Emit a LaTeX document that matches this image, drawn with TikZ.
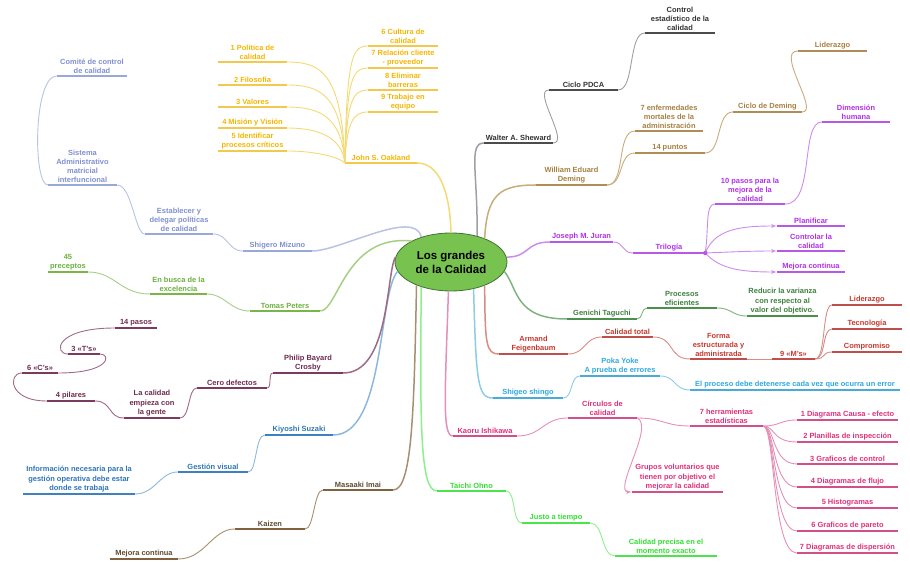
\documentclass[tikz,border=0pt]{standalone}
\usepackage{fontspec}
\setmainfont{Liberation Sans}
\usetikzlibrary{arrows}
\usetikzlibrary{shapes}

\begin{document}
\begin{tikzpicture}[>=latex',line join=bevel,
  topic/.style={anchor=south,align=center,inner xsep=0pt,inner ysep=1.8bp,minimum width=70bp,font=\bfseries\fontsize{7.5}{9.3}\selectfont},
  underbar/.style={append after command={(\tikzlastnode.south west) edge[draw=#1,line width=2.8bp] (\tikzlastnode.south east)}},
  link/.style={draw=#1,line width=0.9bp},
  trunk/.style={draw=#1,line width=1.5bp}]
\useasboundingbox (0bp,0bp) rectangle (910bp,574bp);
%%
  \definecolor{rootfill}{rgb}{0.47,0.76,0.31};
  \definecolor{rootstroke}{rgb}{0.25,0.45,0.20};
  \definecolor{oaktext}{rgb}{0.96,0.71,0.0};
  \definecolor{oakbar}{rgb}{0.95,0.79,0.30};
  \definecolor{oakline}{rgb}{0.96,0.85,0.45};
  \definecolor{shewtext}{rgb}{0.2,0.2,0.2};
  \definecolor{shewbar}{rgb}{0.3,0.3,0.3};
  \definecolor{shewline}{rgb}{0.62,0.62,0.65};
  \definecolor{demtext}{rgb}{0.65,0.5,0.25};
  \definecolor{dembar}{rgb}{0.69,0.55,0.34};
  \definecolor{demline}{rgb}{0.78,0.68,0.48};
  \definecolor{jurtext}{rgb}{0.69,0.19,0.91};
  \definecolor{jurbar}{rgb}{0.72,0.35,0.90};
  \definecolor{jurline}{rgb}{0.80,0.55,0.92};
  \definecolor{tagtext}{rgb}{0.24,0.50,0.24};
  \definecolor{tagbar}{rgb}{0.30,0.56,0.30};
  \definecolor{tagline}{rgb}{0.50,0.70,0.50};
  \definecolor{feitext}{rgb}{0.78,0.22,0.18};
  \definecolor{feibar}{rgb}{0.75,0.31,0.30};
  \definecolor{feiline}{rgb}{0.85,0.55,0.52};
  \definecolor{shitext}{rgb}{0.18,0.66,0.88};
  \definecolor{shibar}{rgb}{0.29,0.67,0.85};
  \definecolor{shiline}{rgb}{0.55,0.80,0.90};
  \definecolor{ishtext}{rgb}{0.88,0.19,0.48};
  \definecolor{ishbar}{rgb}{0.82,0.31,0.55};
  \definecolor{ishline}{rgb}{0.90,0.56,0.72};
  \definecolor{ohntext}{rgb}{0.2,0.87,0.2};
  \definecolor{ohnbar}{rgb}{0.30,0.89,0.30};
  \definecolor{ohnline}{rgb}{0.55,0.94,0.55};
  \definecolor{imatext}{rgb}{0.37,0.29,0.18};
  \definecolor{imabar}{rgb}{0.50,0.38,0.25};
  \definecolor{imaline}{rgb}{0.66,0.56,0.44};
  \definecolor{suztext}{rgb}{0.18,0.46,0.71};
  \definecolor{suzbar}{rgb}{0.25,0.50,0.75};
  \definecolor{suzline}{rgb}{0.55,0.72,0.87};
  \definecolor{crotext}{rgb}{0.43,0.17,0.31};
  \definecolor{crobar}{rgb}{0.48,0.23,0.37};
  \definecolor{croline}{rgb}{0.62,0.42,0.53};
  \definecolor{pettext}{rgb}{0.42,0.69,0.24};
  \definecolor{petbar}{rgb}{0.48,0.71,0.28};
  \definecolor{petline}{rgb}{0.65,0.81,0.52};
  \definecolor{miztext}{rgb}{0.50,0.56,0.82};
  \definecolor{mizbar}{rgb}{0.60,0.66,0.86};
  \definecolor{mizline}{rgb}{0.72,0.76,0.90};
%
  \node (NodeRoot) at (451bp,312bp) [draw=rootstroke,fill=rootfill,ellipse,line width=0.8bp,minimum width=112bp,minimum height=58bp,inner sep=0pt,align=center,font=\bfseries\fontsize{11.5}{14}\selectfont] {Los grandes\\de la Calidad};
% John S. Oakland
  \node (NodeOakland) at (381bp,411bp) [topic,minimum width=72bp,text=oaktext,underbar=oakbar] {John S. Oakland};
  \node (NodePolitica) at (252.5bp,512bp) [topic,minimum width=69bp,text=oaktext,underbar=oakbar] {1 Política de\\calidad};
  \node (NodeFilosofia) at (252.5bp,489bp) [topic,minimum width=69bp,text=oaktext,underbar=oakbar] {2 Filosofía};
  \node (NodeValores) at (252.5bp,467bp) [topic,minimum width=69bp,text=oaktext,underbar=oakbar] {3 Valores};
  \node (NodeMision) at (252.5bp,446bp) [topic,minimum width=69bp,text=oaktext,underbar=oakbar] {4 Misión y Visión};
  \node (NodeCriticos) at (252.5bp,423bp) [topic,minimum width=69bp,text=oaktext,underbar=oakbar] {5 Identificar\\procesos críticos};
  \node (NodeCultura) at (403bp,528bp) [topic,text=oaktext,underbar=oakbar] {6 Cultura de\\calidad};
  \node (NodeRelacion) at (403bp,506bp) [topic,text=oaktext,underbar=oakbar] {7 Relación cliente\\- proveedor};
  \node (NodeBarreras) at (403bp,484bp) [topic,text=oaktext,underbar=oakbar] {8 Eliminar\\barreras};
  \node (NodeEquipo) at (403bp,462bp) [topic,text=oaktext,underbar=oakbar] {9 Trabajo en\\equipo};
% Walter A. Sheward
  \node (NodeSheward) at (518.5bp,431bp) [topic,minimum width=69bp,text=shewtext,underbar=shewbar] {Walter A. Sheward};
  \node (NodePDCA) at (583.5bp,484bp) [topic,minimum width=69bp,text=shewtext,underbar=shewbar] {Ciclo PDCA};
  \node (NodeEstadistico) at (680bp,541bp) [topic,text=shewtext,underbar=shewbar] {Control\\estadístico de la\\calidad};
% William Eduard Deming
  \node (NodeDeming) at (571.5bp,389bp) [topic,minimum width=71bp,text=demtext,underbar=dembar] {William Eduard\\Deming};
  \node (NodeEnfermedades) at (669bp,443bp) [topic,minimum width=68bp,text=demtext,underbar=dembar] {7 enfermedades\\mortales de la\\administración};
  \node (NodePuntos) at (670bp,421bp) [topic,text=demtext,underbar=dembar] {14 puntos};
  \node (NodeCicloDeming) at (767.5bp,462bp) [topic,minimum width=69bp,text=demtext,underbar=dembar] {Ciclo de Deming};
  \node (NodeLiderazgoD) at (832.5bp,523bp) [topic,minimum width=69bp,text=demtext,underbar=dembar] {Liderazgo};
% Joseph M. Juran
  \node (NodeJuran) at (581.5bp,332bp) [topic,minimum width=63bp,text=jurtext,underbar=jurbar] {Joseph M. Juran};
  \node (NodeTrilogia) at (669bp,321bp) [topic,minimum width=72bp,text=jurtext,underbar=jurbar] {Trilogía};
  \node (NodeDiezPasos) at (750bp,370bp) [topic,text=jurtext,underbar=jurbar] {10 pasos para la\\mejora de la\\calidad};
  \node (NodeDimension) at (856bp,452bp) [topic,minimum width=68bp,text=jurtext,underbar=jurbar] {Dimensión\\humana};
  \node (NodePlanificar) at (811bp,348bp) [topic,minimum width=68bp,text=jurtext,underbar=jurbar] {Planificar};
  \node (NodeControlar) at (811bp,323bp) [topic,minimum width=68bp,text=jurtext,underbar=jurbar] {Controlar la\\calidad};
  \node (NodeMejoraJ) at (811bp,302bp) [topic,minimum width=68bp,text=jurtext,underbar=jurbar] {Mejora continua};
% Genichi Taguchi
  \node (NodeTaguchi) at (602bp,255bp) [topic,text=tagtext,underbar=tagbar] {Genichi Taguchi};
  \node (NodeEficientes) at (682bp,266bp) [topic,text=tagtext,underbar=tagbar] {Procesos\\eficientes};
  \node (NodeVarianza) at (782.5bp,258bp) [topic,minimum width=71bp,text=tagtext,underbar=tagbar] {Reducir la varianza\\con respecto al\\valor del objetivo.};
% Armand Feigenbaum
  \node (NodeFeigenbaum) at (533.5bp,220bp) [topic,minimum width=69bp,text=feitext,underbar=feibar] {Armand\\Feigenbaum};
  \node (NodeTotal) at (627.5bp,237bp) [topic,minimum width=51bp,text=feitext,underbar=feibar] {Calidad total};
  \node (NodeForma) at (718.5bp,215bp) [topic,minimum width=57bp,text=feitext,underbar=feibar] {Forma\\estructurada y\\administrada};
  \node (NodeEmes) at (793.5bp,215bp) [topic,minimum width=43bp,text=feitext,underbar=feibar] {9 «M's»};
  \node (NodeLiderazgoF) at (867bp,269bp) [topic,text=feitext,underbar=feibar] {Liderazgo};
  \node (NodeTecnologia) at (867bp,245bp) [topic,text=feitext,underbar=feibar] {Tecnología};
  \node (NodeCompromiso) at (867bp,222bp) [topic,text=feitext,underbar=feibar] {Compromiso};
% Shigeo shingo
  \node (NodeShingo) at (528bp,176bp) [topic,text=shitext,underbar=shibar] {Shigeo shingo};
  \node (NodePokaYoke) at (620bp,198bp) [topic,minimum width=80bp,text=shitext,underbar=shibar] {Poka Yoke\\A prueba de errores};
  \node (NodeError) at (795bp,184bp) [topic,minimum width=210bp,text=shitext,underbar=shibar] {El proceso debe detenerse cada vez que ocurra un error};
% Kaoru Ishikawa
  \node (NodeIshikawa) at (485bp,138bp) [topic,minimum width=64bp,text=ishtext,underbar=ishbar] {Kaoru Ishikawa};
  \node (NodeCirculos) at (602.5bp,156bp) [topic,minimum width=69bp,text=ishtext,underbar=ishbar] {Círculos de\\calidad};
  \node (NodeHerramientas) at (726.5bp,148bp) [topic,minimum width=73bp,text=ishtext,underbar=ishbar] {7 herramientas\\estadísticas};
  \node (NodeGrupos) at (677.5bp,82bp) [topic,minimum width=91bp,text=ishtext,underbar=ishbar] {Grupos voluntarios que\\tienen por objetivo el\\mejorar la calidad};
  \node (NodeToolA) at (847.5bp,154bp) [topic,minimum width=101bp,text=ishtext,underbar=ishbar] {1 Diagrama Causa - efecto};
  \node (NodeToolB) at (847.5bp,132bp) [topic,minimum width=101bp,text=ishtext,underbar=ishbar] {2 Planillas de inspección};
  \node (NodeToolC) at (847.5bp,110bp) [topic,minimum width=101bp,text=ishtext,underbar=ishbar] {3 Graficos de control};
  \node (NodeToolD) at (847.5bp,87bp) [topic,minimum width=101bp,text=ishtext,underbar=ishbar] {4 Diagramas de flujo};
  \node (NodeToolE) at (847.5bp,66bp) [topic,minimum width=101bp,text=ishtext,underbar=ishbar] {5 Histogramas};
  \node (NodeToolF) at (847.5bp,43bp) [topic,minimum width=101bp,text=ishtext,underbar=ishbar] {6 Graficos de pareto};
  \node (NodeToolG) at (847.5bp,21bp) [topic,minimum width=101bp,text=ishtext,underbar=ishbar] {7 Diagramas de dispersión};
% Taichi Ohno
  \node (NodeOhno) at (471.5bp,83bp) [topic,minimum width=69bp,text=ohntext,underbar=ohnbar] {Taichi Ohno};
  \node (NodeJusto) at (556bp,51bp) [topic,minimum width=68bp,text=ohntext,underbar=ohnbar] {Justo a tiempo};
  \node (NodeMomento) at (666bp,18bp) [topic,minimum width=102bp,text=ohntext,underbar=ohnbar] {Calidad precisa en el\\momento exacto};
% Masaaki Imai
  \node (NodeImai) at (358bp,84bp) [topic,text=imatext,underbar=imabar] {Masaaki Imai};
  \node (NodeKaizen) at (270bp,45bp) [topic,text=imatext,underbar=imabar] {Kaizen};
  \node (NodeMejoraI) at (144bp,15bp) [topic,minimum width=68bp,text=imatext,underbar=imabar] {Mejora continua};
% Kiyoshi Suzaki
  \node (NodeSuzaki) at (299bp,139bp) [topic,minimum width=68bp,text=suztext,underbar=suzbar] {Kiyoshi Suzaki};
  \node (NodeGestion) at (213bp,102bp) [topic,text=suztext,underbar=suzbar] {Gestión visual};
  \node (NodeInformacion) at (79bp,80bp) [topic,minimum width=112bp,text=suztext,underbar=suzbar] {Información necesaria para la\\gestión operativa debe estar\\donde se trabaja};
% Philip Bayard Crosby
  \node (NodeCrosby) at (308bp,201bp) [topic,text=crotext,underbar=crobar] {Philip Bayard\\Crosby};
  \node (NodeCero) at (232bp,186bp) [topic,text=crotext,underbar=crobar] {Cero defectos};
  \node (NodeGente) at (152bp,156bp) [topic,minimum width=56bp,text=crotext,underbar=crobar] {La calidad\\empieza con\\la gente};
  \node (NodePilares) at (71bp,173bp) [topic,minimum width=48bp,text=crotext,underbar=crobar] {4 pilares};
  \node (NodeCes) at (40bp,201bp) [topic,minimum width=36bp,text=crotext,underbar=crobar] {6 «C's»};
  \node (NodeTes) at (84bp,220bp) [topic,minimum width=32bp,text=crotext,underbar=crobar] {3 «T's»};
  \node (NodePasos) at (136bp,246bp) [topic,minimum width=42bp,text=crotext,underbar=crobar] {14 pasos};
% Tomas Peters
  \node (NodePeters) at (285bp,263bp) [topic,text=pettext,underbar=petbar] {Tomas Peters};
  \node (NodeBusca) at (178.5bp,280bp) [topic,minimum width=57bp,text=pettext,underbar=petbar] {En busca de la\\excelencia};
  \node (NodePreceptos) at (68bp,302bp) [topic,minimum width=40bp,text=pettext,underbar=petbar] {45\\preceptos};
% Shigero Mizuno
  \node (NodeMizuno) at (277.5bp,323bp) [topic,minimum width=69bp,text=miztext,underbar=mizbar] {Shigero Mizuno};
  \node (NodeEstablecer) at (179bp,340bp) [topic,minimum width=68bp,text=miztext,underbar=mizbar] {Establecer y\\delegar políticas\\de calidad};
  \node (NodeSistema) at (82.5bp,389bp) [topic,minimum width=69bp,text=miztext,underbar=mizbar] {Sistema\\Administrativo\\matricial\\interfuncional};
  \node (NodeComite) at (92bp,498bp) [topic,text=miztext,underbar=mizbar] {Comité de control\\de calidad};
%
  \draw [trunk=oakline] (NodeRoot.north) ..controls (450bp,380bp) and (440bp,411bp)  .. (NodeOakland.south east);
  \draw [link=oakline] (NodeOakland.south west) ..controls (342bp,502bp) and (320bp,512bp)  .. (NodePolitica.south east);
  \draw [link=oakline] (NodeOakland.south west) ..controls (342bp,479bp) and (320bp,489bp)  .. (NodeFilosofia.south east);
  \draw [link=oakline] (NodeOakland.south west) ..controls (342bp,457bp) and (320bp,467bp)  .. (NodeValores.south east);
  \draw [link=oakline] (NodeOakland.south west) ..controls (342bp,436bp) and (320bp,446bp)  .. (NodeMision.south east);
  \draw [link=oakline] (NodeOakland.south west) ..controls (342bp,415bp) and (320bp,423bp)  .. (NodeCriticos.south east);
  \draw [link=oakline] (NodeOakland.south west) ..controls (347bp,516bp) and (352bp,528bp)  .. (NodeCultura.south west);
  \draw [link=oakline] (NodeOakland.south west) ..controls (347bp,494bp) and (352bp,506bp)  .. (NodeRelacion.south west);
  \draw [link=oakline] (NodeOakland.south west) ..controls (347bp,472bp) and (352bp,484bp)  .. (NodeBarreras.south west);
  \draw [link=oakline] (NodeOakland.south west) ..controls (347bp,450bp) and (352bp,462bp)  .. (NodeEquipo.south west);
%
  \draw [trunk=shewline] (NodeRoot.45) ..controls (478bp,400bp) and (468bp,431bp)  .. (NodeSheward.south west);
  \draw [link=shewline] (NodeSheward.south east) ..controls (570bp,431bp) and (532bp,484bp)  .. (NodePDCA.south west);
  \draw [link=shewline] (NodePDCA.south east) ..controls (635bp,484bp) and (628bp,541bp)  .. (NodeEstadistico.south west);
%
  \draw [trunk=demline] (NodeRoot.35) ..controls (487bp,380bp) and (500bp,389bp)  .. (NodeDeming.south west);
  \draw [link=demline] (NodeDeming.south east) ..controls (626bp,389bp) and (616bp,443bp)  .. (NodeEnfermedades.south west);
  \draw [link=demline] (NodeDeming.south east) ..controls (624bp,389bp) and (618bp,421bp)  .. (NodePuntos.south west);
  \draw [link=demline] (NodePuntos.south east) ..controls (722bp,421bp) and (716bp,462bp)  .. (NodeCicloDeming.south west);
  \draw [link=demline] (NodeCicloDeming.south east) ..controls (820bp,462bp) and (775bp,523bp)  .. (NodeLiderazgoD.south west);
%
  \draw [trunk=jurline] (NodeRoot.5) ..controls (530bp,317bp) and (525bp,332bp)  .. (NodeJuran.south west);
  \draw [link=jurline] (NodeJuran.south east) ..controls (624bp,332bp) and (622bp,321bp)  .. (NodeTrilogia.south west);
  \draw [link=jurline] (NodeTrilogia.south east) ..controls (709bp,345bp) and (705bp,370bp)  .. (NodeDiezPasos.south west);
  \draw [link=jurline] (NodeDiezPasos.south east) ..controls (815bp,370bp) and (800bp,452bp)  .. (NodeDimension.south west);
  \draw [->,link=jurline] (NodeTrilogia.south east) ..controls (715bp,345bp) and (740bp,348bp)  .. (NodePlanificar.south west);
  \draw [->,link=jurline] (NodeTrilogia.south east) ..controls (730bp,322bp) and (750bp,323bp)  .. (NodeControlar.south west);
  \draw [->,link=jurline] (NodeTrilogia.south east) ..controls (720bp,305bp) and (740bp,302bp)  .. (NodeMejoraJ.south west);
  \fill [jurbar] (NodeTrilogia.south east) circle (2.2bp);
%
  \draw [trunk=tagline] (NodeRoot.-10) ..controls (518bp,285bp) and (515bp,255bp)  .. (NodeTaguchi.south west);
  \draw [link=tagline] (NodeTaguchi.south east) ..controls (643bp,255bp) and (641bp,266bp)  .. (NodeEficientes.south west);
  \draw [link=tagline] (NodeEficientes.south east) ..controls (732bp,266bp) and (732bp,258bp)  .. (NodeVarianza.south west);
%
  \draw [trunk=feiline] (NodeRoot.-35) ..controls (485bp,230bp) and (486bp,220bp)  .. (NodeFeigenbaum.south west);
  \draw [link=feiline] (NodeFeigenbaum.south east) ..controls (586bp,220bp) and (584bp,237bp)  .. (NodeTotal.south west);
  \draw [link=feiline] (NodeTotal.south east) ..controls (675bp,237bp) and (668bp,215bp)  .. (NodeForma.south west);
  \draw [link=feiline] (NodeForma.south east) -- (NodeEmes.south west);
  \draw [link=feiline] (NodeEmes.south east) ..controls (826bp,215bp) and (822bp,269bp)  .. (NodeLiderazgoF.south west);
  \draw [link=feiline] (NodeEmes.south east) ..controls (826bp,215bp) and (822bp,245bp)  .. (NodeTecnologia.south west);
  \draw [link=feiline] (NodeEmes.south east) ..controls (826bp,215bp) and (822bp,222bp)  .. (NodeCompromiso.south west);
%
  \draw [trunk=shiline] (NodeRoot.-50) ..controls (476bp,190bp) and (478bp,176bp)  .. (NodeShingo.south west);
  \draw [link=shiline] (NodeShingo.south east) ..controls (573bp,176bp) and (570bp,198bp)  .. (NodePokaYoke.south west);
  \draw [link=shiline] (NodePokaYoke.south east) ..controls (676bp,198bp) and (674bp,184bp)  .. (NodeError.south west);
%
  \draw [trunk=ishline] (NodeRoot.-95) ..controls (445bp,180bp) and (442bp,138bp)  .. (NodeIshikawa.south west);
  \draw [link=ishline] (NodeIshikawa.south east) ..controls (542bp,138bp) and (543bp,156bp)  .. (NodeCirculos.south west);
  \draw [link=ishline] (NodeCirculos.south east) ..controls (662bp,156bp) and (665bp,148bp)  .. (NodeHerramientas.south west);
  \draw [->,link=ishline] (NodeCirculos.south east) ..controls (655bp,148bp) and (612bp,82bp)  .. (NodeGrupos.south west);
  \draw [link=ishline] (NodeHerramientas.south east) ..controls (780bp,148bp) and (780bp,154bp)  .. (NodeToolA.south west);
  \draw [link=ishline] (NodeHerramientas.south east) ..controls (775bp,148bp) and (772bp,132bp)  .. (NodeToolB.south west);
  \draw [link=ishline] (NodeHerramientas.south east) ..controls (775bp,148bp) and (772bp,110bp)  .. (NodeToolC.south west);
  \draw [link=ishline] (NodeHerramientas.south east) ..controls (775bp,148bp) and (772bp,87bp)  .. (NodeToolD.south west);
  \draw [link=ishline] (NodeHerramientas.south east) ..controls (775bp,148bp) and (772bp,66bp)  .. (NodeToolE.south west);
  \draw [link=ishline] (NodeHerramientas.south east) ..controls (775bp,148bp) and (772bp,43bp)  .. (NodeToolF.south west);
  \draw [link=ishline] (NodeHerramientas.south east) ..controls (775bp,148bp) and (772bp,21bp)  .. (NodeToolG.south west);
%
  \draw [trunk=ohnline] (NodeRoot.-140) ..controls (420bp,150bp) and (420bp,83bp)  .. (NodeOhno.south west);
  \draw [link=ohnline] (NodeOhno.south east) ..controls (516bp,83bp) and (512bp,51bp)  .. (NodeJusto.south west);
  \draw [link=ohnline] (NodeJusto.south east) ..controls (604bp,51bp) and (601bp,18bp)  .. (NodeMomento.south west);
%
  \draw [trunk=imaline] (NodeRoot.-146) ..controls (414bp,160bp) and (412bp,84bp)  .. (NodeImai.south east);
  \draw [link=imaline] (NodeImai.south west) ..controls (314bp,84bp) and (314bp,45bp)  .. (NodeKaizen.south east);
  \draw [link=imaline] (NodeKaizen.south west) ..controls (212bp,45bp) and (205bp,15bp)  .. (NodeMejoraI.south east);
%
  \draw [trunk=suzline] (NodeRoot.-170) ..controls (378bp,280bp) and (385bp,139bp)  .. (NodeSuzaki.south east);
  \draw [link=suzline] (NodeSuzaki.south west) ..controls (255bp,139bp) and (257bp,102bp)  .. (NodeGestion.south east);
  \draw [link=suzline] (NodeGestion.south west) ..controls (160bp,102bp) and (155bp,80bp)  .. (NodeInformacion.south east);
%
  \draw [trunk=croline] (NodeRoot.175) ..controls (386bp,300bp) and (390bp,201bp)  .. (NodeCrosby.south east);
  \draw [link=croline] (NodeCrosby.south west) ..controls (268bp,201bp) and (272bp,186bp)  .. (NodeCero.south east);
  \draw [link=croline] (NodeCero.south west) ..controls (188bp,186bp) and (190bp,156bp)  .. (NodeGente.south east);
  \draw [link=croline] (NodeGente.south west) ..controls (108bp,156bp) and (112bp,173bp)  .. (NodePilares.south east);
  \draw [link=croline] (NodePilares.south west) ..controls (8bp,173bp) and (8bp,201bp)  .. (NodeCes.south west);
  \draw [link=croline] (NodeCes.south east) ..controls (111bp,201bp) and (111bp,220bp)  .. (NodeTes.south east);
  \draw [link=croline] (NodeTes.south west) ..controls (54bp,220bp) and (54bp,246bp)  .. (NodePasos.south west);
%
  \draw [trunk=petline] (NodeRoot.152) ..controls (345bp,340bp) and (338bp,263bp)  .. (NodePeters.south east);
  \draw [link=petline] (NodePeters.south west) ..controls (230bp,263bp) and (225bp,280bp)  .. (NodeBusca.south east);
  \draw [link=petline] (NodeBusca.south west) ..controls (120bp,280bp) and (115bp,302bp)  .. (NodePreceptos.south east);
%
  \draw [trunk=mizline] (NodeRoot.140) ..controls (415bp,366bp) and (340bp,323bp)  .. (NodeMizuno.south east);
  \draw [link=mizline] (NodeMizuno.south west) ..controls (228bp,323bp) and (228bp,340bp)  .. (NodeEstablecer.south east);
  \draw [link=mizline] (NodeEstablecer.south west) ..controls (135bp,340bp) and (132bp,389bp)  .. (NodeSistema.south east);
  \draw [link=mizline] (NodeSistema.south west) ..controls (33bp,389bp) and (33bp,498bp)  .. (NodeComite.south west);
%
\end{tikzpicture}
\end{document}
